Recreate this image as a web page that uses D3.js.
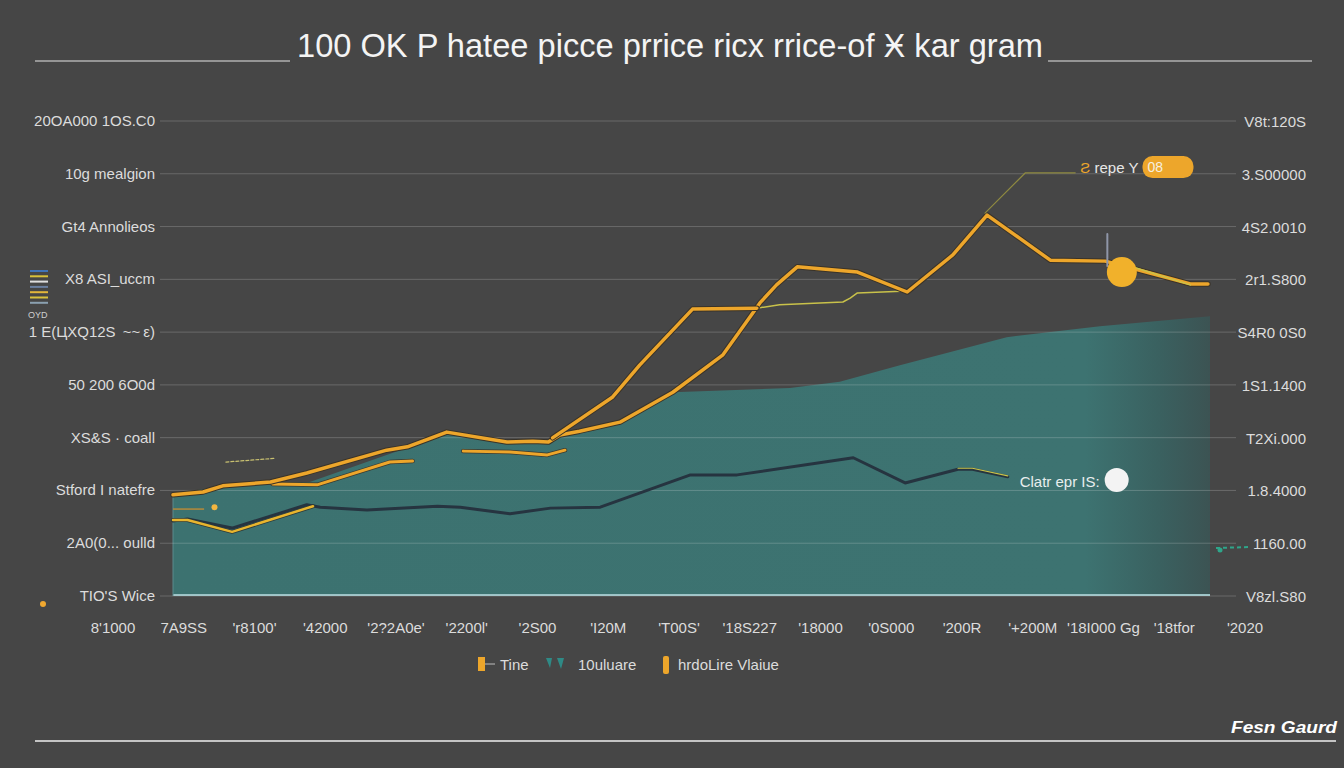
<!DOCTYPE html>
<html><head><meta charset="utf-8">
<script src="https://cdn.jsdelivr.net/npm/d3@7"></script>
<style>html,body{margin:0;padding:0;background:#464646;}svg{display:block;}</style>
</head><body>
<svg id="c" width="1344" height="768"></svg>
<script>
// ---------- data ----------
const titleText = "100 OK P hatee picce prrice ricx rrice-of Ӿ kar gram";
const leftLabels = ["20OA000 1OS.C0","10g mealgion","Gt4 Annolieos","X8 ASI_uccm","1 E(ЦXQ12S \u2009~~\u2009ε)","50 200   6O0d","XS&S · coall","Stford I natefre","2A0(0... oulld","TIO'S Wice"];
const rightLabels = ["V8t:120S","3.S00000","4S2.0010","2r1.S800","S4R0 0S0","1S1.1400","T2Xi.000","1.8.4000","1160.00","V8zl.S80"];
const xLabels = ["8'1000","7A9SS","'r8100'","'42000","'2?2A0e'","'2200l'","'2S00","'I20M","'T00S'","'18S227","'18000","'0S000","'200R","'+200M","'18I000 Gg","'18tfor","'2020"];
const legendLabels = ["Tine","10uluare","hrdoLire Vlaiue"];

// area (teal) – [time, value]
const areaTop = [[0,21.3],[5.0,23.4],[13.2,24.0],[21.9,30.7],[26.2,34.3],[30.6,32.6],[35.9,32.8],[39.2,34.9],[43.1,36.2],[48.2,42.9],[59.5,43.8],[64.3,45.1],[70.1,48.6],[80.4,54.5],[89.4,56.8],[100,58.9]];
// main orange line
const lineA = [[0,21.3],[2.9,21.9],[4.8,23.2],[9.4,24.0],[12.9,25.9],[20.6,30.7],[22.6,31.4],[26.4,34.5],[32.2,32.4],[34.7,32.6],[36.2,32.4],[37.3,33.9],[39.2,34.7],[43.1,36.6],[48.2,42.9],[53.0,50.7],[56.6,61.7],[58.2,65.5],[60.2,69.3],[66.0,68.2],[70.8,64.0],[75.2,71.8],[78.5,80.2],[84.6,70.7],[89.9,70.5],[94.2,68.0],[98.1,65.7],[99.8,65.7]];
// steep orange line
const lineB = [[36.6,33.3],[42.4,41.9],[45.0,48.6],[50.1,60.4],[56.3,60.6]];
const lineBthin = [[56.3,60.6],[58.5,61.3],[64.6,61.9],[65.3,62.7],[66.0,63.8],[70.8,64.2]];
// lower orange fragments
const lineC1 = [[9.6,23.6],[13.9,23.4],[20.9,28.2],[23.1,28.4]];
const lineC2 = [[28.0,30.5],[32.5,30.3],[36.1,29.7],[37.8,30.7]];
const lineYellow = [[0,16.0],[1.4,16.0],[5.7,13.5],[13.5,18.9]];
// dark line
const lineDark = [[0,15.8],[1.4,16.2],[5.7,14.3],[12.9,19.2],[14.2,18.7],[18.7,18.1],[25.5,18.9],[27.7,18.7],[32.5,17.3],[36.4,18.5],[41.2,18.7],[49.9,25.5],[54.4,25.5],[65.6,29.1],[70.6,23.8],[75.7,26.7],[77.1,26.7],[80.5,25.1]];
const darkHighlight = [[75.7,26.9],[77.1,26.9],[80.5,25.3]];
const callout = [[78.3,80.6],[82.2,89.1],[87.0,89.1]];
const dashedBits = [[5.1,28.2],[9.9,29.0]];
const pillPoint = [95.9,90.3];
const orangeDot = [91.5,68.2];
const orangeTail = [[92.8,69.1],[98.1,65.5]];
const grayTick = [[90.1,76.2],[90.1,69.5]];
const whiteDot = [91.0,24.4];
const pillText = "08", pillLabel = "repe Y", whiteLabel = "Clatr epr IS:";
const brand = "Fesn Gaurd";

// ---------- drawing ----------
const svg = d3.select("#c");
const W = 1344, H = 768;
const FONT = "'Liberation Sans', Arial, sans-serif";
const x = d3.scaleLinear().domain([0,100]).range([173,1210]);
const y = d3.scaleLinear().domain([0,100]).range([596,121]);
const yL = d3.scalePoint().domain(leftLabels).range([121,596]);
const yR = d3.scalePoint().domain(rightLabels).range([121,596]);
const xL = d3.scalePoint().domain(xLabels).range([113,1245]);

svg.append("rect").attr("width",W).attr("height",H).attr("fill","#464646");

// title
svg.append("text").attr("x",670).attr("y",57).attr("text-anchor","middle")
  .attr("font-family",FONT).attr("font-size",33).attr("fill","#f4f4f4")
  .attr("textLength",746).attr("lengthAdjust","spacingAndGlyphs").text(titleText);
[[35,290],[1048,1312]].forEach(([a,b])=>{
  svg.append("line").attr("x1",a).attr("x2",b).attr("y1",61).attr("y2",61).attr("stroke","#b0b0b0").attr("stroke-width",1.5);
});

// gradient for area
const defs = svg.append("defs");
const g = defs.append("linearGradient").attr("id","ag").attr("x1","0").attr("x2","1").attr("y1","0").attr("y2","0");
g.append("stop").attr("offset","0%").attr("stop-color","#3c7270");
g.append("stop").attr("offset","88%").attr("stop-color","#3d7371");
g.append("stop").attr("offset","95%").attr("stop-color","#3a6160");
g.append("stop").attr("offset","100%").attr("stop-color","#3c5353");

const area = d3.area().x(d=>x(d[0])).y0(y(0)).y1(d=>y(d[1]));
svg.append("path").datum(areaTop).attr("d",area).attr("fill","url(#ag)");
svg.append("line").attr("x1",x(0)).attr("x2",x(100)).attr("y1",y(0)-1).attr("y2",y(0)-1).attr("stroke","#9cc3c6").attr("stroke-width",2);
svg.append("line").attr("x1",x(0)).attr("x2",x(0)).attr("y1",y(0)).attr("y2",y(21.3)).attr("stroke","#5b8a8c").attr("stroke-width",1);

// gridlines
leftLabels.forEach((l,i)=>{
  const yy = yL(l);
  svg.append("line").attr("x1",160).attr("x2",1236).attr("y1",yy).attr("y2",yy)
    .attr("stroke","rgba(230,230,230,0.22)").attr("stroke-width",1);
});

// left labels
svg.append("g").selectAll("text").data(leftLabels).join("text")
  .attr("x",155).attr("y",d=>yL(d)+5).attr("text-anchor","end")
  .attr("font-family",FONT).attr("font-size",15).attr("fill","#dcdcdc").text(d=>d);
// right labels
svg.append("g").selectAll("text").data(rightLabels).join("text")
  .attr("x",1306).attr("y",d=>yR(d)+6).attr("text-anchor","end")
  .attr("font-family",FONT).attr("font-size",15).attr("fill","#dcdcdc").text(d=>d);
// x labels
svg.append("g").selectAll("text").data(xLabels).join("text")
  .attr("x",d=>xL(d)).attr("y",633).attr("text-anchor","middle")
  .attr("font-family",FONT).attr("font-size",15).attr("fill","#dcdcdc").text(d=>d);

const line = d3.line().x(d=>x(d[0])).y(d=>y(d[1]));
const ORANGE = "#eda62b";
function drawLine(data,color,w,extra){
  const p = svg.append("path").datum(data).attr("d",line).attr("fill","none")
    .attr("stroke",color).attr("stroke-width",w).attr("stroke-linejoin","round").attr("stroke-linecap","round");
  if(extra) extra(p);
  return p;
}
drawLine(lineDark,"#263440",3);
drawLine(darkHighlight,"#c9c24a",1.2);
drawLine(lineYellow,"#2d3a3a",4);
drawLine(lineYellow,"#e8b52e",2.5);
drawLine(lineC1,"#3a3a30",4.5);
drawLine(lineC1,ORANGE,3);
drawLine(lineC2,"#3a3a30",4.5);
drawLine(lineC2,ORANGE,3);
drawLine(lineBthin,"#c9c24a",1.5);
drawLine(lineA,"#3a3328",5.5);
drawLine(lineA,ORANGE,3.5);
drawLine(lineB,"#3a3328",5.5);
drawLine(lineB,ORANGE,3.5);
drawLine(dashedBits,"#c8c070",1.2,p=>p.attr("stroke-dasharray","3,2"));
drawLine(callout,"#8f8a40",1.2);
drawLine(grayTick,"#8f96a8",2);
drawLine(orangeTail,"#c9c24a",1.5);

// orange small mark near left
svg.append("line").attr("x1",x(0)).attr("x2",x(3.0)).attr("y1",y(18.3)).attr("y2",y(18.3)).attr("stroke","#b68a3a").attr("stroke-width",1.5);
svg.append("circle").attr("cx",x(4.0)).attr("cy",y(18.7)).attr("r",3).attr("fill","#f2b640");

// markers
svg.append("circle").attr("cx",x(orangeDot[0])).attr("cy",y(orangeDot[1])).attr("r",15).attr("fill","#f1b12b");
svg.append("circle").attr("cx",x(whiteDot[0])).attr("cy",y(whiteDot[1])).attr("r",12).attr("fill","#f3f3f3");
svg.append("text").attr("x",x(whiteDot[0])-17).attr("y",y(whiteDot[1])+7).attr("text-anchor","end")
  .attr("font-family",FONT).attr("font-size",15).attr("fill","#e8eeee").text(whiteLabel);

// pill
const px = x(pillPoint[0]), py = y(pillPoint[1]);
svg.append("rect").attr("x",px-25).attr("y",py-11).attr("width",51).attr("height",22).attr("rx",10).attr("fill","#eda62b");
svg.append("text").attr("x",px-20).attr("y",py+5).attr("font-family",FONT).attr("font-size",14).attr("fill","#f6f0e0").text(pillText);
const pl = svg.append("text").attr("x",px-29).attr("y",py+6).attr("text-anchor","end").attr("font-family",FONT).attr("font-size",15);
pl.append("tspan").attr("fill","#eda62b").text("Ƨ ");
pl.append("tspan").attr("fill","#e6e6e6").text(pillLabel);

// left icon (legend-like stack)
const iconCols = ["#3f73b8","#d9c13a","#e0e0e0","#6a7fa0","#e2b63a","#d9c13a","#8aa0b0"];
iconCols.forEach((c,i)=>{
  svg.append("rect").attr("x",30).attr("y",270+i*5.3).attr("width",18).attr("height",2).attr("fill",c);
});
svg.append("text").attr("x",28).attr("y",318).attr("font-family",FONT).attr("font-size",9).attr("fill","#cfcfcf").text("OYD");
svg.append("circle").attr("cx",43).attr("cy",604).attr("r",3).attr("fill","#f0a830");
// right small icon
svg.append("line").attr("x1",1216).attr("x2",1250).attr("y1",548).attr("y2",547).attr("stroke","#2fa58a").attr("stroke-width",2).attr("stroke-dasharray","4,3");
svg.append("circle").attr("cx",1220).attr("cy",550).attr("r",2.5).attr("fill","#2fa58a");

// legend
const lg = svg.append("g");
lg.append("rect").attr("x",478).attr("y",657).attr("width",7).attr("height",14).attr("fill","#eda62b");
lg.append("line").attr("x1",485).attr("x2",495).attr("y1",664).attr("y2",664).attr("stroke","#bdbdbd");
lg.append("text").attr("x",500).attr("y",670).attr("font-family",FONT).attr("font-size",15).attr("fill","#dcdcdc").text(legendLabels[0]);
lg.append("path").attr("d","M546,658 l6,0 l-2,10 z M557,658 l7,0 l-3,11 z").attr("fill","#2f8a86");
lg.append("text").attr("x",578).attr("y",670).attr("font-family",FONT).attr("font-size",15).attr("fill","#dcdcdc").text(legendLabels[1]);
lg.append("rect").attr("x",663).attr("y",656).attr("width",6).attr("height",18).attr("rx",2).attr("fill","#eda62b");
lg.append("text").attr("x",678).attr("y",670).attr("font-family",FONT).attr("font-size",15).attr("fill","#dcdcdc").text(legendLabels[2]);

// footer
svg.append("line").attr("x1",35).attr("x2",1336).attr("y1",741).attr("y2",741).attr("stroke","#c4c4c4").attr("stroke-width",2);
svg.append("text").attr("x",1337).attr("y",733).attr("text-anchor","end").attr("font-family",FONT)
  .attr("font-size",16).attr("font-weight","bold").attr("font-style","italic").attr("fill","#ffffff")
  .attr("textLength",106).attr("lengthAdjust","spacingAndGlyphs").text(brand);
</script>
</body></html>
